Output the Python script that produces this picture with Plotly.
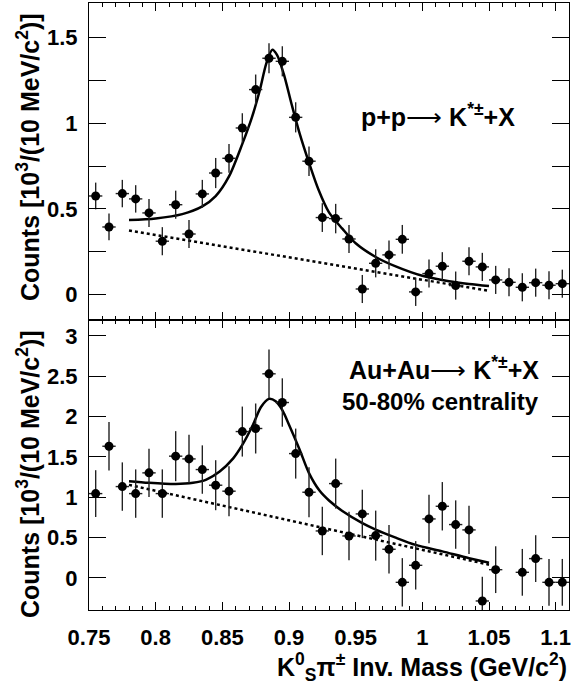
import plotly.graph_objects as go
from plotly.subplots import make_subplots

# bin centres (GeV/c^2)
mass = [0.755, 0.765, 0.775, 0.785, 0.795, 0.805, 0.815, 0.825, 0.835, 0.845, 0.855, 0.865,
        0.875, 0.885, 0.895, 0.905, 0.915, 0.925, 0.935, 0.945, 0.955, 0.965, 0.975, 0.985,
        0.995, 1.005, 1.015, 1.025, 1.035, 1.045, 1.055, 1.065, 1.075, 1.085, 1.095, 1.105]
bin_half = 0.005

# p+p
pp_counts = [0.576, 0.395, 0.59, 0.559, 0.477, 0.312, 0.525, 0.354, 0.588, 0.71, 0.796, 0.973,
             1.197, 1.38, 1.362, 1.035, 0.779, 0.45, 0.444, 0.325, 0.033, 0.183, 0.232, 0.323,
             0.016, 0.123, 0.166, 0.053, 0.195, 0.162, 0.086, 0.072, 0.043, 0.07, 0.055, 0.064]
pp_err = [0.078, 0.078, 0.08, 0.08, 0.082, 0.082, 0.082, 0.082, 0.082, 0.088, 0.084, 0.086,
          0.088, 0.088, 0.088, 0.088, 0.086, 0.084, 0.086, 0.082, 0.082, 0.082, 0.084, 0.084,
          0.082, 0.082, 0.082, 0.082, 0.082, 0.082, 0.082, 0.082, 0.082, 0.082, 0.082, 0.082]

# Au+Au 50-80%
auau_counts = [1.046, 1.633, 1.133, 1.046, 1.303, 1.046, 1.51, 1.476, 1.344, 1.15, 1.076, 1.815,
               1.853, 2.531, 2.175, 1.542, 1.063, 0.583, 1.17, 0.521, 0.794, 0.525, 0.356, -0.054,
               0.157, 0.732, 0.889, 0.662, 0.596, -0.285, 0.103, None, 0.07, 0.24, -0.054, -0.054]
auau_err = [0.29, 0.30, 0.30, 0.30, 0.30, 0.30, 0.31, 0.30, 0.30, 0.31, 0.31, 0.31,
            0.31, 0.30, 0.30, 0.31, 0.31, 0.30, 0.31, 0.30, 0.30, 0.31, 0.30, 0.30,
            0.30, 0.30, 0.30, 0.30, 0.30, 0.30, 0.29, 0, 0.29, 0.29, 0.29, 0.29]

# fit curves
pp_fit_mass = [0.78, 0.80, 0.82, 0.835, 0.845, 0.855, 0.865, 0.872, 0.878, 0.883, 0.8875, 0.891,
               0.896, 0.902, 0.908, 0.915, 0.922, 0.93, 0.94, 0.95, 0.965, 0.98, 1.0, 1.02, 1.035, 1.05]
pp_fit = [0.436, 0.445, 0.47, 0.515, 0.575, 0.69, 0.88, 1.03, 1.19, 1.35, 1.43, 1.40,
          1.29, 1.11, 0.94, 0.77, 0.615, 0.48, 0.385, 0.30, 0.22, 0.165, 0.11, 0.078, 0.062, 0.05]
pp_bg_mass = [0.78, 1.05]
pp_bg = [0.374, 0.022]

auau_fit_mass = [0.78, 0.795, 0.815, 0.828, 0.838, 0.848, 0.858, 0.865, 0.873, 0.879, 0.885, 0.89,
                 0.895, 0.90, 0.908, 0.915, 0.923, 0.93, 0.94, 0.955, 0.965, 0.98, 0.995, 1.015, 1.035, 1.05]
auau_fit = [1.20, 1.18, 1.165, 1.18, 1.22, 1.32, 1.48, 1.65, 1.90, 2.12, 2.22, 2.19,
            2.08, 1.90, 1.59, 1.30, 1.08, 0.96, 0.83, 0.68, 0.60, 0.50, 0.41, 0.33, 0.245, 0.19]
auau_bg_mass = [0.78, 1.05]
auau_bg = [1.154, 0.165]

FONT = "Liberation Sans, Arial, sans-serif"

fig = make_subplots(rows=2, cols=1, shared_xaxes=True, vertical_spacing=0)

for row, counts, err, fm, fv, bm, bv in [
    (1, pp_counts, pp_err, pp_fit_mass, pp_fit, pp_bg_mass, pp_bg),
    (2, auau_counts, auau_err, auau_fit_mass, auau_fit, auau_bg_mass, auau_bg),
]:
    fig.add_trace(go.Scatter(x=bm, y=bv, mode="lines",
                             line=dict(color="black", width=2.5, dash="3px,3px")), row=row, col=1)
    fig.add_trace(go.Scatter(x=fm, y=fv, mode="lines",
                             line=dict(color="black", width=2.5, shape="spline", smoothing=0.8)),
                  row=row, col=1)
    fig.add_trace(go.Scatter(
        x=mass, y=counts, mode="markers",
        marker=dict(color="black", size=9, symbol="circle"),
        error_y=dict(type="data", array=err, color="#222", thickness=1.4, width=0),
        error_x=dict(type="constant", value=bin_half, color="#222", thickness=1.4, width=0),
    ), row=row, col=1)

split = (610 - 320) / 607
fig.update_layout(
    width=571, height=685,
    margin=dict(l=89, r=2, t=3, b=75, autoexpand=False),
    paper_bgcolor="white", plot_bgcolor="white",
    showlegend=False,
    font=dict(family=FONT, color="black"),
    yaxis=dict(domain=[split, 1]),
    yaxis2=dict(domain=[0, split]),
)

axis_common = dict(showline=True, linecolor="black", linewidth=1, mirror="allticks",
                   ticks="inside", tickcolor="black", tickwidth=1, showgrid=False, zeroline=False,
                   automargin=False,
                   tickfont=dict(family=FONT, size=22, color="black", weight="bold"))

fig.update_xaxes(range=[0.75, 1.11], dtick=0.05, tick0=0.75, ticklen=8,
                 minor=dict(dtick=0.01, tick0=0.75, ticks="inside", ticklen=4, tickcolor="black"),
                 **axis_common)
fig.update_xaxes(showticklabels=False, row=1, col=1)
fig.update_xaxes(showticklabels=True, ticklabelstandoff=8, row=2, col=1)

fig.update_yaxes(range=[-0.148, 1.7025], tickvals=[0, 0.5, 1, 1.5], ticklen=17,
                 ticklabelstandoff=6,
                 minor=dict(tickvals=[0.25, 0.75, 1.25], ticks="inside", ticklen=17, tickcolor="black"),
                 row=1, col=1, **axis_common)
fig.update_yaxes(range=[-0.397, 3.198], dtick=0.5, tick0=0, ticklen=17, ticklabelstandoff=6,
                 row=2, col=1, **axis_common)

ytitle = "Counts [10<sup>3</sup>/(10 MeV/c<sup>2</sup>)]"
for yc in [(610 - 157) / 607, (610 - 474) / 607]:
    fig.add_annotation(text="<b>" + ytitle + "</b>", xref="paper", yref="paper",
                       x=(28 - 89) / 480, y=yc, textangle=-90, showarrow=False,
                       xanchor="center", yanchor="middle",
                       font=dict(family=FONT, size=25, color="black"))

fig.add_annotation(text="<b>K<sup>0</sup><sub>S</sub>π<sup>±</sup> Inv. Mass (GeV/c<sup>2</sup>)</b>",
                   xref="paper", yref="paper", x=1.0, y=(610 - 667) / 607,
                   xanchor="right", yanchor="middle", showarrow=False,
                   font=dict(family=FONT, size=25, color="black"))

arrow = "<span style='font-weight:normal'>⟶</span>"
fig.add_annotation(text="<b>p+p" + arrow + " K<sup>*±</sup>+X</b>", xref="paper", yref="paper",
                   x=(437.5 - 89) / 480, y=(610 - 115) / 607, showarrow=False,
                   xanchor="center", yanchor="middle", font=dict(family=FONT, size=25, color="black"))
fig.add_annotation(text="<b>Au+Au" + arrow + " K<sup>*±</sup>+X</b>", xref="paper", yref="paper",
                   x=(443.5 - 89) / 480, y=(610 - 368) / 607, showarrow=False,
                   xanchor="center", yanchor="middle", font=dict(family=FONT, size=25, color="black"))
fig.add_annotation(text="<b>50-80% centrality</b>", xref="paper", yref="paper",
                   x=(440.5 - 89) / 480, y=(610 - 401) / 607, showarrow=False,
                   xanchor="center", yanchor="middle", font=dict(family=FONT, size=24, color="black"))

# drop the default page margin so the figure sits at the window's corner
fig.write_html("out.html", config={"displayModeBar": False},
               post_script="document.body.style.margin='0';")
